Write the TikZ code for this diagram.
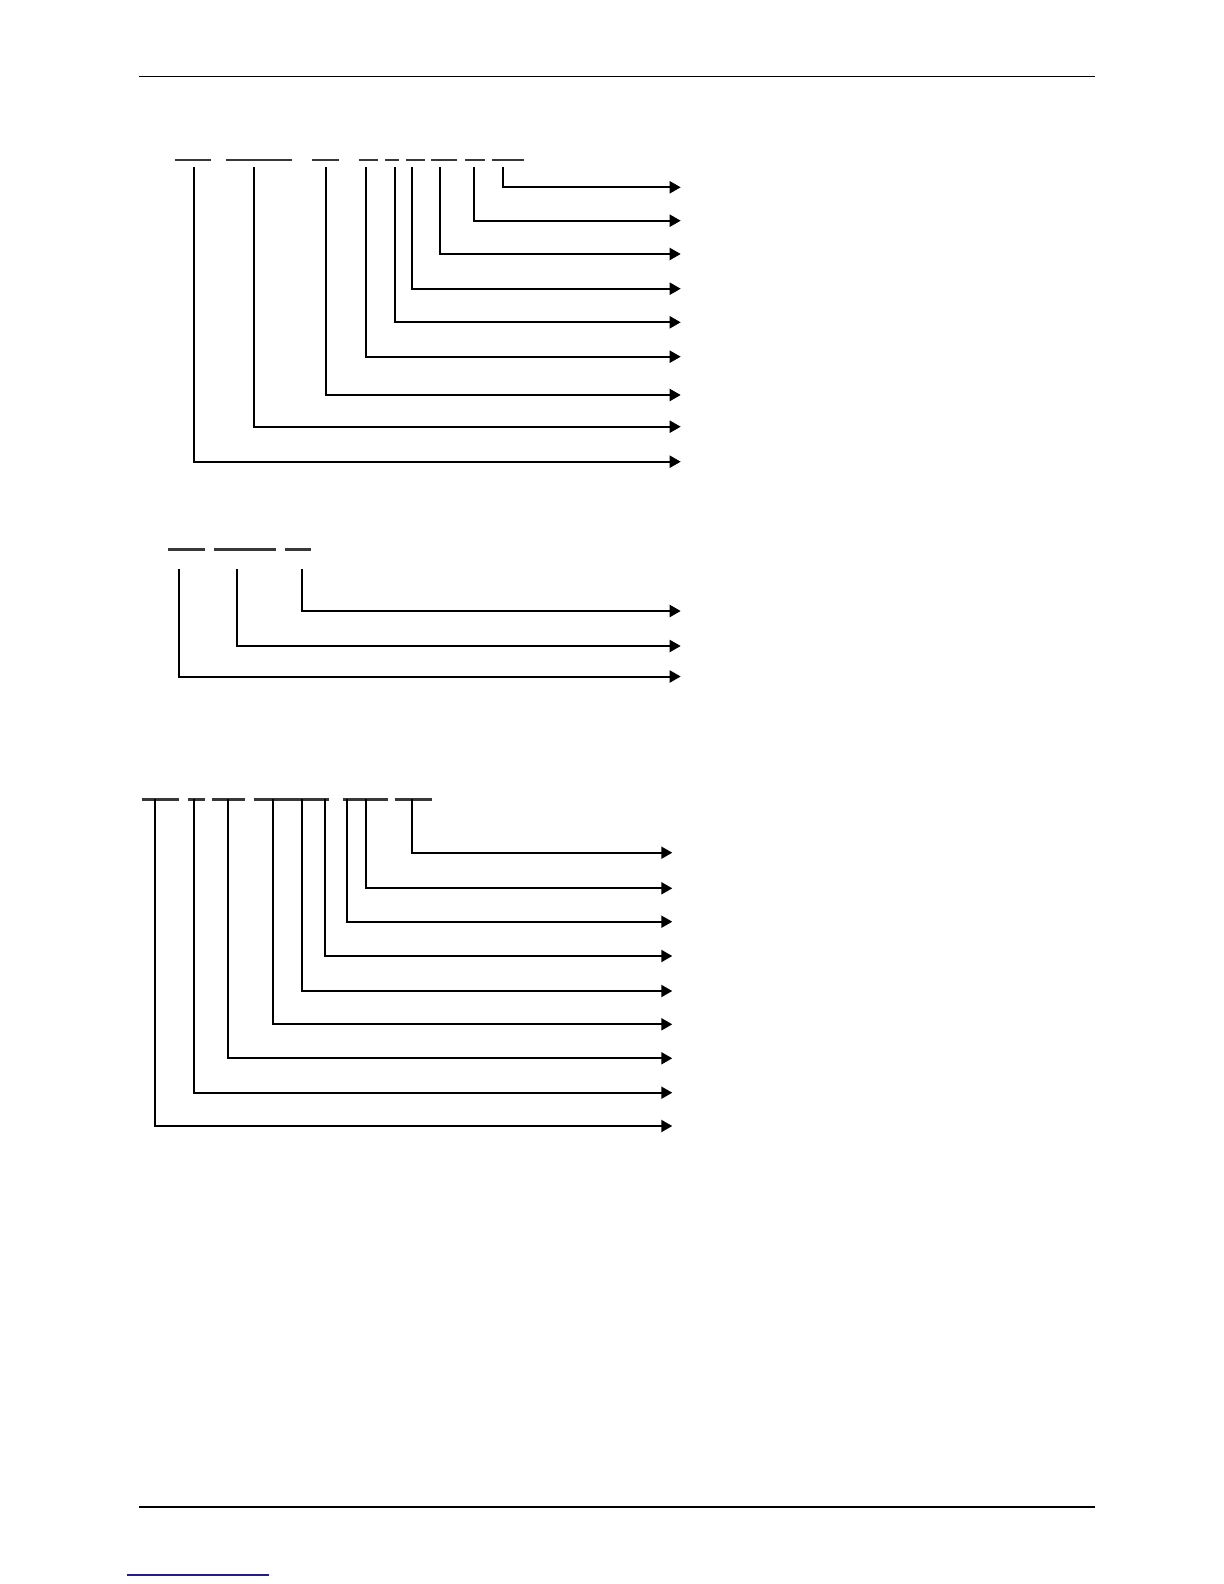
\documentclass[tikz,border=0pt]{standalone}
\usetikzlibrary{arrows.meta}
\begin{document}
\begin{tikzpicture}[x=0.5pt,y=-0.5pt,
  rule/.style={line width=0.7pt,black},
  blank/.style={line width=1.3pt,draw=black!78},
  lead/.style={line width=1pt,black,-{Triangle[length=5.5pt,width=6pt]}},
  thin/.style={line width=0.6pt}]
\useasboundingbox (0,0) rectangle (1224,1584);
% header / footer rules
\coordinate (hl) at (139,76.5); \coordinate (hr) at (1095,76.5);
\draw[rule] (hl) -- (hr);
\coordinate (fl) at (139,1507); \coordinate (fr) at (1095,1507);
\draw[rule] (fl) -- (fr);
\coordinate (bl) at (127,1575); \coordinate (br) at (269,1575);
\draw[line width=0.6pt,draw={rgb,255:red,30;green,30;blue,140}] (bl) -- (br);

% ---------- group 1 ----------
\foreach \a/\b in {175/211,226/292,312/339,359/378,385/399,406/425,431/457,465/485,492/524}
  \draw[blank] (\a,160) -- (\b,160);
\foreach \n/\x/\y/\s in {a1/194.3/461.7/thin,a2/254/426.7/,a3/325.7/395/thin,a4/365.7/356.7/thin,
                        a5/395.3/322.3/,a6/412/288.7/,a7/440/254/,a8/474/220.7/,a9/503.3/187.3/}{
  \coordinate (\n t) at (\x,167.3);
  \coordinate (\n e) at (680.7,\y);
  \draw[lead] (\n t) |- (\n e);
}

% ---------- group 2 ----------
\foreach \a/\b in {168/205,214/276,285/311}
  \draw[blank] (\a,549.3) -- (\b,549.3);
\foreach \n/\x/\y in {b1/179/676.5,b2/237/646,b3/301.7/611}{
  \coordinate (\n t) at (\x,569.3);
  \coordinate (\n e) at (680.7,\y);
  \draw[lead] (\n t) |- (\n e);
}

% ---------- group 3 ----------
\foreach \a/\b in {142/179,188/205,212/245,254/329,343/388,395/432}
  \draw[blank] (\a,799.3) -- (\b,799.3);
\foreach \n/\x/\y in {c1/155/1126,c2/194.3/1092.7,c3/228.3/1058.3,c4/273.3/1024.3,
                     c5/302/991,c6/325/956,c7/347/921.7,c8/365.7/888.3,c9/412/852.7}{
  \coordinate (\n t) at (\x,799.3);
  \coordinate (\n e) at (672.3,\y);
  \draw[lead] (\n t) |- (\n e);
}
\end{tikzpicture}
\end{document}
